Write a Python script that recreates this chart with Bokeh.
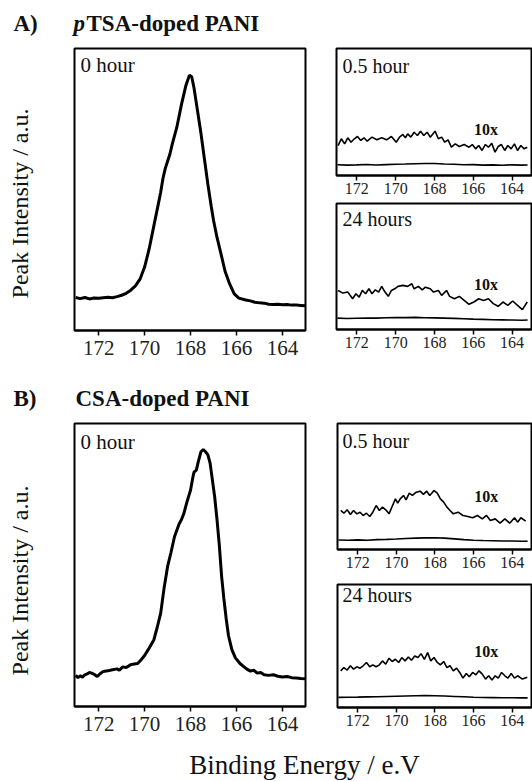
from bokeh.plotting import figure
from bokeh.layouts import column, row
from bokeh.models import Range1d, FixedTicker, Label
from bokeh.embed import file_html
from bokeh.resources import INLINE

FONT = "Liberation Serif"

# ---------------- data (binding energy eV, normalised intensity) ----------------
ticks = [172, 170, 168, 166, 164]
tick_labels = ["172", "170", "168", "166", "164"]

# A) pTSA-doped PANI, 0 hour
a0_x = [173.0, 172.8, 172.6, 172.4, 172.2, 172.0, 171.8, 171.6, 171.4, 171.2, 171.0, 170.8, 170.6,
        170.4, 170.2, 170.0, 169.8, 169.6, 169.4, 169.3, 169.2, 169.1, 169.0, 168.9, 168.8, 168.6,
        168.4, 168.2, 168.05, 167.95, 167.85, 167.7, 167.55, 167.4, 167.25, 167.1, 167.0, 166.85,
        166.7, 166.5, 166.3, 166.1, 165.9, 165.6, 165.4, 165.2, 165.0, 164.8, 164.6, 164.4, 164.2,
        164.0, 163.8, 163.6, 163.4, 163.2, 163.0]
a0_y = [0.117, 0.113, 0.117, 0.112, 0.115, 0.114, 0.116, 0.118, 0.116, 0.120, 0.125, 0.132, 0.143,
        0.158, 0.182, 0.225, 0.290, 0.370, 0.450, 0.490, 0.540, 0.575, 0.600, 0.625, 0.660, 0.720,
        0.800, 0.870, 0.905, 0.900, 0.860, 0.780, 0.700, 0.610, 0.520, 0.440, 0.390, 0.330,
        0.280, 0.210, 0.165, 0.130, 0.115, 0.108, 0.105, 0.100, 0.098, 0.097, 0.093, 0.092, 0.093,
        0.091, 0.092, 0.090, 0.090, 0.089, 0.088]

# A) 0.5 hour, 10x trace and raw trace
a05_x = [172.97, 172.8, 172.63, 172.47, 172.3, 172.13, 171.97, 171.8, 171.63, 171.47, 171.22, 170.97,
         170.72, 170.47, 170.22, 169.97, 169.8, 169.63, 169.5, 169.38, 169.22, 169.05, 168.88, 168.72,
         168.55, 168.38, 168.22, 167.97, 167.8, 167.63, 167.47, 167.3, 167.13, 166.93, 166.72, 166.47,
         166.22, 166.05, 165.88, 165.72, 165.55, 165.38, 165.22, 165.05, 164.88, 164.72, 164.55, 164.38,
         164.22, 164.05, 163.88, 163.72, 163.55, 163.38, 163.22]
a05_y = [0.236, 0.289, 0.249, 0.297, 0.262, 0.289, 0.307, 0.276, 0.297, 0.270, 0.302, 0.281,
         0.297, 0.281, 0.307, 0.262, 0.302, 0.323, 0.297, 0.328, 0.302, 0.341, 0.315, 0.349,
         0.315, 0.341, 0.302, 0.349, 0.289, 0.302, 0.262, 0.281, 0.223, 0.249, 0.228, 0.244,
         0.223, 0.244, 0.210, 0.236, 0.197, 0.244, 0.223, 0.254, 0.184, 0.228, 0.244, 0.197,
         0.236, 0.210, 0.249, 0.197, 0.236, 0.210, 0.223]
a05_raw_x = [173.0, 172.5, 172.0, 171.5, 171.0, 170.5, 170.0, 169.5, 169.0, 168.5, 168.0, 167.5,
             167.0, 166.5, 166.0, 165.5, 165.0, 164.5, 164.0, 163.5, 163.2]
a05_raw_y = [0.085, 0.082, 0.084, 0.087, 0.083, 0.086, 0.088, 0.090, 0.093, 0.095, 0.094, 0.090,
             0.088, 0.085, 0.086, 0.082, 0.084, 0.081, 0.084, 0.082, 0.083]

# A) 24 hours
a24_x = [172.97, 172.72, 172.47, 172.22, 172.05, 171.88, 171.72, 171.55, 171.38, 171.22, 171.05, 170.88,
         170.72, 170.55, 170.38, 170.22, 170.05, 169.88, 169.63, 169.38, 169.17, 169.05, 168.83, 168.63,
         168.47, 168.22, 168.05, 167.8, 167.63, 167.38, 167.22, 166.97, 166.72, 166.47, 166.22, 165.97,
         165.72, 165.47, 165.22, 164.97, 164.72, 164.47, 164.22, 163.97, 163.72, 163.47, 163.22]
a24_y = [0.310, 0.289, 0.297, 0.244, 0.284, 0.257, 0.310, 0.284, 0.323, 0.284, 0.315, 0.297,
         0.342, 0.297, 0.263, 0.310, 0.323, 0.342, 0.350, 0.342, 0.363, 0.323, 0.342, 0.315,
         0.336, 0.323, 0.297, 0.310, 0.271, 0.310, 0.263, 0.244, 0.263, 0.231, 0.200, 0.218,
         0.244, 0.231, 0.244, 0.205, 0.184, 0.218, 0.192, 0.226, 0.192, 0.158, 0.218]
a24_raw_x = [173.0, 172.5, 172.0, 171.5, 171.0, 170.5, 170.0, 169.5, 169.0, 168.5, 168.0, 167.5,
             167.0, 166.5, 166.0, 165.5, 165.0, 164.5, 164.0, 163.5, 163.2]
a24_raw_y = [0.090, 0.087, 0.089, 0.091, 0.090, 0.093, 0.095, 0.094, 0.096, 0.093, 0.092, 0.090,
             0.088, 0.085, 0.082, 0.080, 0.077, 0.076, 0.075, 0.074, 0.075]

# B) CSA-doped PANI, 0 hour
b0_x = [173.0, 172.9, 172.8, 172.7, 172.6, 172.5, 172.4, 172.3, 172.2, 172.06, 171.95, 171.8, 171.6,
        171.4, 171.2, 171.1, 170.95, 170.8, 170.6, 170.45, 170.3, 170.15, 170.0, 169.85, 169.6,
        169.45, 169.3, 169.15, 169.0, 168.85, 168.7, 168.5, 168.4, 168.3, 168.15, 168.0, 167.9,
        167.85, 167.75, 167.68, 167.55, 167.45, 167.35, 167.25, 167.15, 167.05, 166.95, 166.85,
        166.75, 166.65, 166.55, 166.45, 166.35, 166.2, 166.05, 165.85, 165.7, 165.55, 165.4,
        165.25, 165.1, 164.95, 164.8, 164.6, 164.4, 164.2, 164.0, 163.8, 163.6, 163.4, 163.2, 163.0]
b0_y = [0.110, 0.102, 0.108, 0.104, 0.112, 0.115, 0.120, 0.118, 0.114, 0.106, 0.115, 0.124, 0.126,
        0.130, 0.133, 0.128, 0.140, 0.138, 0.148, 0.150, 0.152, 0.165, 0.180, 0.200, 0.235,
        0.280, 0.330, 0.420, 0.495, 0.545, 0.600, 0.645, 0.660, 0.680, 0.725, 0.765, 0.810,
        0.828, 0.835, 0.860, 0.900, 0.908, 0.900, 0.890, 0.860, 0.800, 0.740, 0.660,
        0.570, 0.460, 0.380, 0.310, 0.250, 0.200, 0.172, 0.152, 0.142, 0.132, 0.125,
        0.128, 0.118, 0.120, 0.112, 0.110, 0.112, 0.107, 0.104, 0.106, 0.102, 0.101, 0.099, 0.098]

# B) 0.5 hour
b05_x = [172.88, 172.72, 172.55, 172.38, 172.22, 172.05, 171.88, 171.72, 171.55, 171.38, 171.22, 171.05,
         170.88, 170.72, 170.55, 170.38, 170.22, 170.05, 169.93, 169.8, 169.63, 169.5, 169.33, 169.17,
         168.97, 168.77, 168.6, 168.43, 168.27, 168.05, 167.88, 167.72, 167.55, 167.38, 167.22, 167.05,
         166.8, 166.55, 166.3, 166.05, 165.8, 165.55, 165.33, 165.13, 164.88, 164.63, 164.38, 164.13,
         163.88, 163.72, 163.55, 163.3]
b05_y = [0.310, 0.288, 0.315, 0.278, 0.310, 0.283, 0.296, 0.270, 0.288, 0.262, 0.296, 0.349,
         0.310, 0.336, 0.315, 0.283, 0.341, 0.402, 0.368, 0.402, 0.429, 0.394, 0.447, 0.429,
         0.455, 0.463, 0.437, 0.463, 0.429, 0.468, 0.447, 0.402, 0.376, 0.336, 0.310, 0.283,
         0.296, 0.270, 0.262, 0.252, 0.270, 0.243, 0.270, 0.230, 0.243, 0.209, 0.243, 0.209,
         0.252, 0.217, 0.252, 0.225]
b05_raw_x = [173.0, 172.5, 172.0, 171.5, 171.0, 170.5, 170.0, 169.5, 169.0, 168.5, 168.0, 167.5,
             167.0, 166.5, 166.0, 165.5, 165.0, 164.5, 164.0, 163.5, 163.2]
b05_raw_y = [0.075, 0.073, 0.076, 0.074, 0.078, 0.080, 0.083, 0.087, 0.090, 0.092, 0.093, 0.090,
             0.084, 0.078, 0.074, 0.071, 0.070, 0.068, 0.067, 0.066, 0.066]

# B) 24 hours
b24_x = [172.88, 172.72, 172.55, 172.38, 172.22, 172.05, 171.88, 171.72, 171.55, 171.38, 171.22, 171.05,
         170.88, 170.72, 170.55, 170.38, 170.22, 170.05, 169.88, 169.72, 169.55, 169.38, 169.22, 169.05,
         168.88, 168.72, 168.55, 168.38, 168.22, 168.05, 167.88, 167.72, 167.55, 167.38, 167.22, 167.05,
         166.88, 166.72, 166.55, 166.38, 166.22, 166.05, 165.88, 165.72, 165.55, 165.38, 165.22, 165.05,
         164.88, 164.72, 164.55, 164.38, 164.22, 164.05, 163.88, 163.72, 163.47, 163.22]
b24_y = [0.298, 0.325, 0.304, 0.339, 0.312, 0.331, 0.320, 0.339, 0.366, 0.331, 0.347, 0.331,
         0.347, 0.379, 0.352, 0.401, 0.374, 0.392, 0.366, 0.406, 0.379, 0.411, 0.384, 0.419,
         0.406, 0.438, 0.392, 0.446, 0.379, 0.406, 0.366, 0.347, 0.374, 0.325, 0.339, 0.298,
         0.320, 0.285, 0.239, 0.277, 0.250, 0.285, 0.266, 0.298, 0.271, 0.231, 0.258, 0.223,
         0.258, 0.239, 0.285, 0.258, 0.239, 0.277, 0.239, 0.258, 0.231, 0.245]
b24_raw_x = [173.0, 172.5, 172.0, 171.5, 171.0, 170.5, 170.0, 169.5, 169.0, 168.5, 168.0, 167.5,
             167.0, 166.5, 166.0, 165.5, 165.0, 164.5, 164.0, 163.5, 163.2]
b24_raw_y = [0.082, 0.083, 0.084, 0.086, 0.088, 0.090, 0.092, 0.094, 0.096, 0.097, 0.095, 0.093,
             0.090, 0.087, 0.083, 0.081, 0.080, 0.079, 0.079, 0.078, 0.078]

BASE_SHIFT = 0.4  # em fraction used to lift alphabetic labels


def panel(width, height, bl, br, bt, bb, tick_size, standoff):
    p = figure(width=width, height=height, x_range=Range1d(173.05, 163.0), y_range=Range1d(0, 1),
               output_backend="svg", toolbar_location=None,
               min_border_left=bl, min_border_right=br, min_border_top=bt, min_border_bottom=bb)
    p.yaxis.visible = False
    p.grid.visible = False
    p.outline_line_color = "black"
    p.outline_line_width = 2
    p.background_fill_color = "white"
    p.border_fill_color = "white"
    ax = p.xaxis[0]
    ax.ticker = FixedTicker(ticks=ticks)
    ax.major_label_overrides = {t: l for t, l in zip(ticks, tick_labels)}
    ax.major_label_text_font = FONT
    ax.major_label_text_font_size = tick_size
    ax.major_label_text_color = "#222222"
    ax.major_label_standoff = standoff
    ax.axis_line_width = 2
    ax.major_tick_line_width = 1.5
    ax.major_tick_in = 0
    ax.major_tick_out = 5
    ax.minor_tick_line_color = None
    return p


def blank(width, height):
    p = figure(width=width, height=height, x_range=Range1d(0, width), y_range=Range1d(0, height),
               output_backend="svg", toolbar_location=None, min_border=0,
               min_border_left=0, min_border_right=0, min_border_top=0, min_border_bottom=0)
    p.axis.visible = False
    p.grid.visible = False
    p.outline_line_color = None
    p.background_fill_color = "white"
    p.border_fill_color = "white"
    return p


def ylab(height, bt, bb):
    p = figure(width=50, height=height, x_range=Range1d(0, 1), y_range=Range1d(0, 1),
               output_backend="svg", toolbar_location=None,
               min_border_left=34, min_border_right=0, min_border_top=bt, min_border_bottom=bb)
    p.xaxis.visible = False
    p.grid.visible = False
    p.outline_line_color = None
    p.background_fill_color = "white"
    p.border_fill_color = "white"
    ya = p.yaxis[0]
    ya.ticker = FixedTicker(ticks=[])
    ya.axis_line_color = None
    ya.major_tick_line_color = None
    ya.minor_tick_line_color = None
    ya.axis_label = "Peak Intensity / a.u."
    ya.axis_label_text_font = FONT
    ya.axis_label_text_font_size = "24px"
    ya.axis_label_text_font_style = "normal"
    ya.axis_label_text_color = "#111111"
    ya.axis_label_standoff = 2
    return p


def text(p, x, y, s, px, style="normal", units="screen", align="left", frame_h=None):
    if units == "screen":
        y = y + BASE_SHIFT * px
    else:
        y = y + BASE_SHIFT * px / frame_h
    p.add_layout(Label(x=x, y=y, x_units=units, y_units=units, text=s, text_font=FONT,
                       text_font_size=f"{px}px", text_font_style=style, text_color="#111111",
                       text_align=align, text_baseline="alphabetic"))


# ---------------- A ----------------
titleA = blank(532, 46)
text(titleA, 13, 14, "A)", 23, "bold")
text(titleA, 73, 14, "p", 23, "bold italic")
text(titleA, 86, 14, "TSA-doped PANI", 23, "bold")

ylabA = ylab(332, 62, 80)

leftA = panel(270, 332, 24, 15, 2, 48, "21px", 5)
leftA.line(a0_x, a0_y, line_color="black", line_width=3)
text(leftA, 6, 257, "0 hour", 21)

rA1 = panel(212, 155, 16, 1, 2, 26, "16px", 2)
rA1.line(a05_x, a05_y, line_color="black", line_width=1.6)
rA1.line(a05_raw_x, a05_raw_y, line_color="black", line_width=1.6)
text(rA1, 6, 102, "0.5 hour", 20)
text(rA1, 165.35, 0.315, "10x", 16, "bold", units="data", align="center", frame_h=127)

rA2 = panel(212, 177, 16, 1, 2, 49, "16px", 2)
rA2.line(a24_x, a24_y, line_color="black", line_width=1.6)
rA2.line(a24_raw_x, a24_raw_y, line_color="black", line_width=1.6)
text(rA2, 6, 103, "24 hours", 20)
text(rA2, 165.35, 0.31, "10x", 16, "bold", units="data", align="center", frame_h=126)

# ---------------- B ----------------
titleB = blank(532, 43)
text(titleB, 13, 14, "B)", 23, "bold")
text(titleB, 75, 14, "CSA-doped PANI", 23, "bold")

ylabB = ylab(321, 64, 67)

leftB = panel(270, 321, 24, 15, 2, 36, "21px", 5)
leftB.line(b0_x, b0_y, line_color="black", line_width=3)
text(leftB, 6, 256, "0 hour", 21)

rB1 = panel(212, 154, 17, 1, 2, 26, "16px", 2)
rB1.line(b05_x, b05_y, line_color="black", line_width=1.6)
rB1.line(b05_raw_x, b05_raw_y, line_color="black", line_width=1.6)
text(rB1, 5, 101, "0.5 hour", 20)
text(rB1, 165.35, 0.373, "10x", 16, "bold", units="data", align="center", frame_h=126)

rB2 = panel(212, 167, 17, 1, 9, 35, "16px", 2)
rB2.line(b24_x, b24_y, line_color="black", line_width=1.6)
rB2.line(b24_raw_x, b24_raw_y, line_color="black", line_width=1.6)
text(rB2, 5, 105, "24 hours", 20)
text(rB2, 165.35, 0.40, "10x", 16, "bold", units="data", align="center", frame_h=123)

# ---------------- x label ----------------
xfig = blank(532, 39)
text(xfig, 304, 6, "Binding Energy / e.V", 27, align="center")

layout = column(titleA,
                row(column(ylabA), leftA, column(rA1, rA2)),
                titleB,
                row(column(ylabB), leftB, column(rB1, rB2)),
                xfig)

open("out.html", "w").write(file_html(layout, INLINE))
